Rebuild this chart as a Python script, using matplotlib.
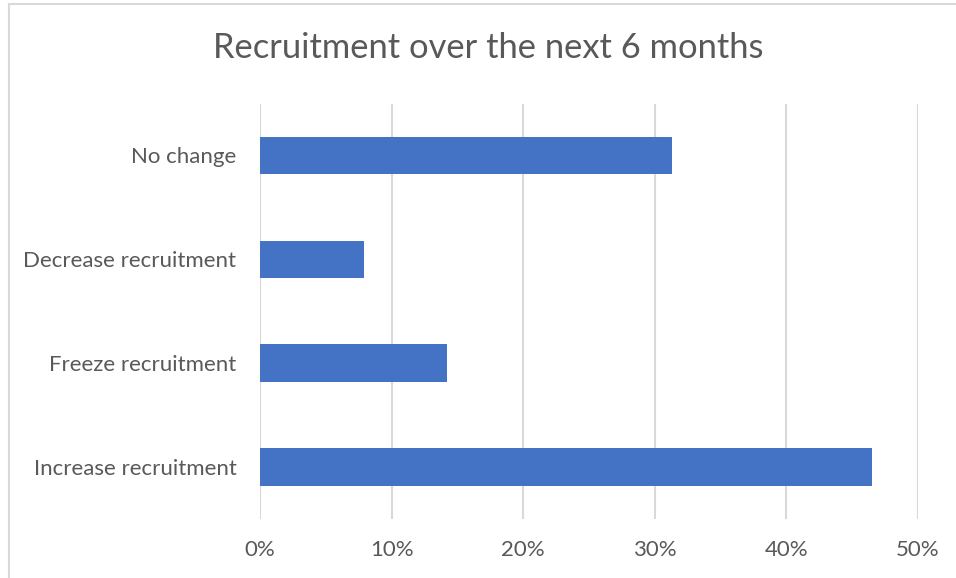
import matplotlib
matplotlib.use('Agg')
import matplotlib.pyplot as plt
from matplotlib.lines import Line2D
from matplotlib.ticker import PercentFormatter

categories = ['Increase recruitment', 'Freeze recruitment', 'Decrease recruitment', 'No change']
values = [46.5, 14.2, 7.9, 31.3]
ticks = [0, 10, 20, 30, 40, 50]

text_color = '#595959'
grid_color = '#D9D9D9'
bar_color = '#4472C4'

plt.rcParams['font.family'] = ['Lato', 'DejaVu Sans']

fig = plt.figure(figsize=(9.56, 5.78), dpi=100)
ax = fig.add_axes([260 / 956, 1 - 518.8 / 578, (917.7 - 260) / 956, (518.8 - 103.5) / 578])

ax.barh(range(len(categories)), values, height=0.36, color=bar_color, zorder=3)

ax.set_xlim(0, 50)
ax.set_ylim(-0.5, len(categories) - 0.5)
ax.set_xticks(ticks)
ax.xaxis.set_major_formatter(PercentFormatter(decimals=0))
ax.set_yticks(range(len(categories)))
ax.set_yticklabels(categories)

ax.grid(axis='x', color=grid_color, linewidth=1.5, zorder=0)
for s in ax.spines.values():
    s.set_visible(False)
ax.tick_params(axis='both', length=0, labelsize=16, colors=text_color)
ax.tick_params(axis='x', pad=15)
ax.tick_params(axis='y', pad=17)

fig.text(488 / 956, 1 - 48 / 578, 'Recruitment over the next 6 months',
         ha='center', va='center', fontsize=24.8, color=text_color)

# chart frame (left and top edges visible)
fig.add_artist(Line2D([8.5 / 956, 8.5 / 956], [0, 1 - 4 / 578], transform=fig.transFigure,
                      color=grid_color, linewidth=1.5))
fig.add_artist(Line2D([8.5 / 956, 1], [1 - 4 / 578, 1 - 4 / 578], transform=fig.transFigure,
                      color=grid_color, linewidth=1.5))

fig.savefig('out.png', dpi=100)
